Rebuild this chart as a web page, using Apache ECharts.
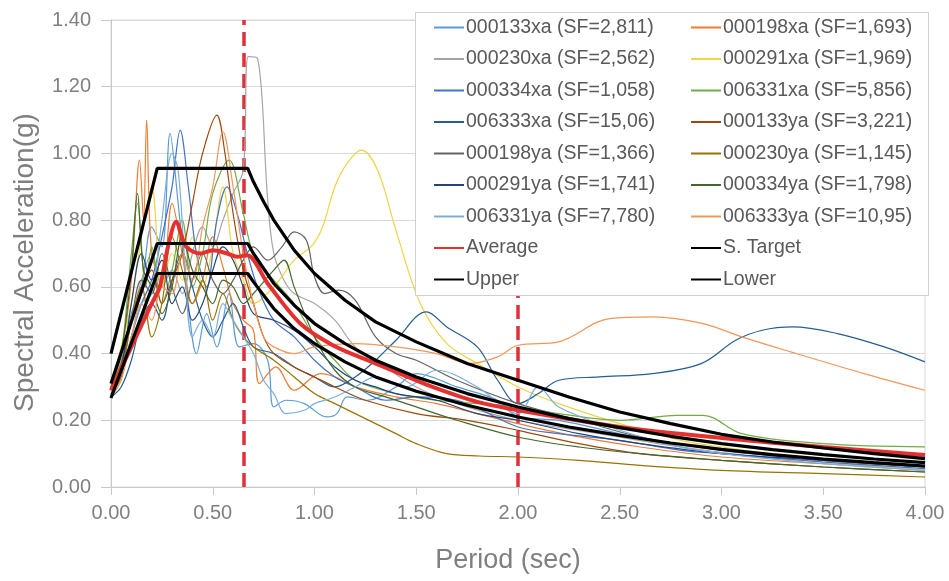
<!DOCTYPE html>
<html>
<head>
<meta charset="utf-8">
<script src="https://cdn.jsdelivr.net/npm/echarts@6/dist/echarts.min.js"></script>
<style>
  html, body { margin: 0; padding: 0; background: #ffffff; }
  #chart { width: 949px; height: 581px; }
</style>
</head>
<body>
<div id="chart"></div>
<script>
// Scaled ground-motion records: [period (s), spectral acceleration (g)]
const r000133xa = [[0,0.30],[0.05,0.36],[0.1,0.52],[0.15,0.6],[0.2,0.78],[0.25,0.72],[0.29,1.06],[0.33,0.85],[0.38,0.55],[0.42,0.40],[0.47,0.52],[0.52,0.42],[0.58,0.58],[0.63,0.42],[0.7,0.43],[0.77,0.38],[0.8,0.24],[0.86,0.26],[0.95,0.25],[1.06,0.21],[1.11,0.22],[1.16,0.27],[1.26,0.26],[1.4,0.3],[1.5,0.34],[1.7,0.3],[1.9,0.26],[2.0,0.21],[2.2,0.2],[2.5,0.16],[2.8,0.12],[3.0,0.1],[3.5,0.08],[4.0,0.06]];
const r000198xa = [[0,0.29],[0.05,0.4],[0.1,0.62],[0.14,0.98],[0.16,0.8],[0.175,1.10],[0.2,0.7],[0.25,0.62],[0.3,0.85],[0.35,0.7],[0.4,0.55],[0.45,0.62],[0.5,0.75],[0.55,0.66],[0.6,0.55],[0.65,0.5],[0.7,0.47],[0.73,0.31],[0.81,0.36],[0.9,0.29],[1.03,0.34],[1.1,0.33],[1.2,0.3],[1.4,0.27],[1.6,0.25],[1.8,0.22],[2.0,0.19],[2.3,0.15],[2.6,0.12],[3.0,0.09],[3.5,0.07],[4.0,0.05]];
const r000230xa = [[0,0.3],[0.05,0.38],[0.1,0.5],[0.15,0.62],[0.2,0.7],[0.25,0.6],[0.3,0.65],[0.35,0.58],[0.4,0.7],[0.45,0.78],[0.5,0.72],[0.55,0.8],[0.6,0.88],[0.65,0.95],[0.675,1.29],[0.72,1.285],[0.77,0.86],[0.8,0.7],[0.85,0.62],[0.9,0.58],[1.0,0.55],[1.1,0.5],[1.2,0.42],[1.3,0.38],[1.5,0.3],[1.7,0.25],[2.0,0.2],[2.4,0.16],[2.8,0.12],[3.2,0.09],[3.6,0.07],[4.0,0.05]];
const r000291xa = [[0,0.31],[0.05,0.42],[0.1,0.55],[0.15,0.75],[0.2,0.9],[0.25,0.6],[0.3,0.7],[0.35,0.62],[0.4,0.75],[0.45,0.6],[0.5,0.72],[0.55,0.9],[0.6,0.7],[0.65,0.62],[0.7,0.55],[0.8,0.6],[0.9,0.68],[0.99,0.725],[1.04,0.78],[1.1,0.9],[1.16,0.97],[1.23,1.01],[1.31,0.95],[1.4,0.77],[1.52,0.55],[1.65,0.43],[1.8,0.37],[2.0,0.30],[2.2,0.25],[2.5,0.19],[2.8,0.14],[3.0,0.12],[3.5,0.08],[4.0,0.05]];
const r000334xa = [[0,0.28],[0.05,0.33],[0.1,0.45],[0.15,0.55],[0.2,0.62],[0.25,0.75],[0.3,0.9],[0.34,1.07],[0.38,0.9],[0.42,0.7],[0.47,0.6],[0.52,0.8],[0.57,0.9],[0.62,0.82],[0.67,0.7],[0.72,0.6],[0.8,0.5],[0.9,0.45],[1.0,0.38],[1.1,0.33],[1.2,0.3],[1.35,0.26],[1.5,0.27],[1.7,0.26],[2.0,0.18],[2.2,0.16],[2.5,0.14],[2.8,0.11],[3.0,0.1],[3.5,0.075],[4.0,0.055]];
const r006331xa = [[0,0.30],[0.05,0.4],[0.1,0.7],[0.13,0.85],[0.17,0.6],[0.2,0.72],[0.25,0.55],[0.3,0.65],[0.35,0.8],[0.4,0.6],[0.45,0.7],[0.5,0.88],[0.58,0.98],[0.65,0.82],[0.7,0.7],[0.8,0.62],[0.9,0.55],[1.0,0.45],[1.1,0.38],[1.2,0.32],[1.4,0.28],[1.6,0.26],[1.8,0.25],[2.0,0.24],[2.2,0.22],[2.5,0.2],[2.78,0.215],[2.91,0.215],[3.1,0.16],[3.5,0.13],[4.0,0.12]];
const r006333xa = [[0,0.27],[0.05,0.3],[0.1,0.38],[0.15,0.5],[0.2,0.55],[0.25,0.5],[0.3,0.62],[0.35,0.7],[0.4,0.6],[0.45,0.5],[0.5,0.45],[0.55,0.5],[0.6,0.55],[0.65,0.48],[0.7,0.42],[0.8,0.4],[0.9,0.36],[1.0,0.33],[1.1,0.3],[1.2,0.33],[1.3,0.38],[1.4,0.44],[1.55,0.525],[1.65,0.48],[1.8,0.42],[1.9,0.32],[2.0,0.25],[2.1,0.28],[2.2,0.32],[2.4,0.33],[2.66,0.34],[2.9,0.37],[3.07,0.44],[3.2,0.47],[3.35,0.48],[3.57,0.46],[3.8,0.42],[4.0,0.375]];
const r000133ya = [[0,0.30],[0.05,0.37],[0.1,0.5],[0.15,0.58],[0.2,0.65],[0.25,0.55],[0.3,0.62],[0.35,0.7],[0.4,0.85],[0.45,1.0],[0.52,1.115],[0.56,1.0],[0.6,0.82],[0.65,0.65],[0.7,0.55],[0.75,0.45],[0.8,0.4],[0.9,0.36],[1.0,0.33],[1.1,0.3],[1.25,0.26],[1.5,0.22],[1.75,0.2],[2.0,0.17],[2.3,0.13],[2.6,0.1],[3.0,0.08],[3.5,0.06],[4.0,0.045]];
const r000198ya = [[0,0.29],[0.05,0.35],[0.1,0.5],[0.15,0.62],[0.2,0.58],[0.25,0.7],[0.3,0.6],[0.35,0.52],[0.4,0.62],[0.45,0.7],[0.5,0.62],[0.55,0.58],[0.6,0.62],[0.65,0.68],[0.7,0.72],[0.77,0.68],[0.84,0.72],[0.9,0.765],[0.96,0.74],[1.0,0.63],[1.05,0.58],[1.12,0.59],[1.2,0.56],[1.3,0.45],[1.4,0.4],[1.5,0.38],[1.7,0.32],[2.0,0.25],[2.3,0.2],[2.6,0.15],[3.0,0.11],[3.5,0.08],[4.0,0.06]];
const r000230ya = [[0,0.28],[0.05,0.33],[0.1,0.5],[0.15,0.6],[0.2,0.45],[0.25,0.55],[0.3,0.75],[0.35,0.65],[0.4,0.55],[0.45,0.62],[0.5,0.5],[0.55,0.58],[0.6,0.5],[0.65,0.45],[0.7,0.42],[0.8,0.38],[0.9,0.33],[1.0,0.28],[1.1,0.25],[1.2,0.22],[1.3,0.19],[1.4,0.16],[1.5,0.13],[1.65,0.1],[1.81,0.093],[2.0,0.09],[2.3,0.08],[2.6,0.065],[3.0,0.05],[3.5,0.04],[4.0,0.03]];
const r000291ya = [[0,0.3],[0.05,0.36],[0.1,0.55],[0.15,0.7],[0.2,0.62],[0.25,0.68],[0.3,0.55],[0.35,0.6],[0.4,0.5],[0.45,0.55],[0.5,0.65],[0.55,0.72],[0.6,0.68],[0.65,0.6],[0.7,0.52],[0.8,0.5],[0.9,0.47],[1.0,0.42],[1.1,0.36],[1.2,0.32],[1.3,0.3],[1.4,0.28],[1.6,0.26],[1.8,0.22],[2.0,0.2],[2.3,0.16],[2.6,0.13],[3.0,0.1],[3.5,0.08],[4.0,0.06]];
const r000334ya = [[0,0.31],[0.05,0.4],[0.1,0.65],[0.13,0.88],[0.16,0.65],[0.2,0.6],[0.25,0.52],[0.3,0.6],[0.35,0.75],[0.4,0.65],[0.45,0.6],[0.5,0.55],[0.55,0.62],[0.6,0.6],[0.65,0.55],[0.7,0.58],[0.8,0.65],[0.85,0.68],[0.9,0.6],[1.0,0.45],[1.1,0.35],[1.2,0.3],[1.35,0.27],[1.5,0.24],[1.7,0.2],[2.0,0.15],[2.3,0.12],[2.6,0.1],[3.0,0.08],[3.5,0.06],[4.0,0.045]];
const r006331ya = [[0,0.29],[0.05,0.34],[0.1,0.45],[0.15,0.55],[0.2,0.58],[0.25,0.8],[0.3,1.0],[0.33,0.95],[0.36,0.7],[0.4,0.45],[0.45,0.5],[0.5,0.45],[0.55,0.55],[0.6,0.5],[0.65,0.45],[0.7,0.4],[0.75,0.32],[0.8,0.28],[0.86,0.22],[0.95,0.23],[1.0,0.25],[1.1,0.27],[1.2,0.3],[1.3,0.33],[1.45,0.3],[1.6,0.35],[1.8,0.3],[2.0,0.22],[2.1,0.3],[2.2,0.24],[2.5,0.17],[2.8,0.12],[3.0,0.1],[3.5,0.07],[4.0,0.05]];
const r006333ya = [[0,0.27],[0.05,0.32],[0.1,0.45],[0.15,0.55],[0.2,0.5],[0.25,0.6],[0.3,0.58],[0.35,0.7],[0.4,0.62],[0.45,0.78],[0.5,0.9],[0.55,1.065],[0.6,0.9],[0.65,0.7],[0.7,0.55],[0.75,0.45],[0.8,0.42],[0.9,0.4],[1.0,0.42],[1.2,0.43],[1.4,0.42],[1.6,0.4],[1.76,0.37],[1.9,0.39],[2.0,0.425],[2.2,0.435],[2.45,0.505],[2.66,0.51],[2.91,0.49],[3.1,0.45],[3.34,0.405],[3.7,0.34],[4.0,0.29]];

// Record names, scale factors and line colours (legend order)
const recordNames = ['000133xa (SF=2,811)','000198xa (SF=1,693)','000230xa (SF=2,562)','000291xa (SF=1,969)','000334xa (SF=1,058)','006331xa (SF=5,856)','006333xa (SF=15,06)','000133ya (SF=3,221)','000198ya (SF=1,366)','000230ya (SF=1,145)','000291ya (SF=1,741)','000334ya (SF=1,798)','006331ya (SF=7,780)','006333ya (SF=10,95)'];
const recordData = [r000133xa, r000198xa, r000230xa, r000291xa, r000334xa, r006331xa, r006333xa, r000133ya, r000198ya, r000230ya, r000291ya, r000334ya, r006331ya, r006333ya];
const recordColors = ['#5B9BD5','#ED7D31','#A5A5A5','#EDD545','#4472C4','#70AD47','#255E91','#9E480E','#636363','#997300','#264478','#43682B','#7CAFDD','#F1975A'];

// Mean spectrum of the scaled records
const avgPeriods = [0, 0.1, 0.2, 0.24, 0.28, 0.32, 0.37, 0.44, 0.5, 0.57, 0.62, 0.67, 0.77, 0.93, 1.09, 1.26, 1.42, 1.58, 1.8, 2.0, 2.5, 3.0, 3.5, 4.0];
const avgValues = [0.29, 0.42, 0.55, 0.60, 0.72, 0.795, 0.72, 0.70, 0.71, 0.70, 0.69, 0.695, 0.61, 0.49, 0.425, 0.38, 0.34, 0.30, 0.255, 0.23, 0.18, 0.147, 0.12, 0.096];

// Design (target) spectrum with upper and lower bounds
const targetPeriods = [0, 0.227, 0.672, 0.7, 0.75, 0.8, 0.9, 1.0, 1.15, 1.3, 1.5, 1.75, 2.0, 2.25, 2.5, 2.75, 3.0, 3.25, 3.5, 3.75, 4.0];
const targetValues = [0.31, 0.73, 0.73, 0.70, 0.655, 0.61, 0.545, 0.49, 0.43, 0.38, 0.33, 0.28, 0.24, 0.205, 0.178, 0.152, 0.13, 0.112, 0.097, 0.084, 0.073];
const upperValues = [0.40, 0.955, 0.955, 0.915, 0.855, 0.80, 0.71, 0.64, 0.56, 0.495, 0.435, 0.37, 0.32, 0.27, 0.225, 0.19, 0.158, 0.135, 0.117, 0.10, 0.085];
const lowerValues = [0.267, 0.64, 0.64, 0.615, 0.575, 0.535, 0.475, 0.43, 0.375, 0.33, 0.287, 0.245, 0.21, 0.18, 0.155, 0.132, 0.113, 0.097, 0.084, 0.073, 0.063];

// Period range limits marked with dashed lines
const markPeriods = [0.65, 2.0];

const pairUp = (xs, ys) => xs.map((x, i) => [x, ys[i]]);

const mainFont = "'Liberation Sans', Arial, sans-serif";

const series = [];
recordNames.forEach((name, i) => {
  series.push({
    name: name,
    type: 'line',
    data: recordData[i],
    smooth: 0.35,
    symbol: 'none',
    lineStyle: { width: 1.2, color: recordColors[i] },
    itemStyle: { color: recordColors[i] },
    z: 2
  });
});
series.push({
  name: 'Average', type: 'line', data: pairUp(avgPeriods, avgValues), smooth: 0.3, symbol: 'none',
  lineStyle: { width: 4, color: '#E5302F' }, itemStyle: { color: '#E5302F' }, z: 2
});
[['S. Target', targetValues], ['Upper', upperValues], ['Lower', lowerValues]].forEach(([name, vals]) => {
  series.push({
    name: name, type: 'line', data: pairUp(targetPeriods, vals), symbol: 'none',
    lineStyle: { width: 3.2, color: '#000000' }, itemStyle: { color: '#000000' }, z: 2
  });
});
series.push({
  name: 'period limits', type: 'line', data: [], symbol: 'none', z: 2,
  markLine: {
    silent: true, symbol: 'none', label: { show: false }, z: 2,
    lineStyle: { color: '#E0313B', width: 3.5, type: [14, 7] },
    data: markPeriods.map(p => ({ xAxis: p }))
  }
});

const leftNames = [], rightNames = [];
recordNames.forEach((n, i) => (i % 2 === 0 ? leftNames : rightNames).push(n));
leftNames.push('Average', 'Upper');
rightNames.push('S. Target', 'Lower');

const legendBase = {
  orient: 'vertical', top: 16, padding: 0, itemGap: 8.5, itemWidth: 30, itemHeight: 4,
  selectedMode: false, z: 4,
  itemStyle: { opacity: 0 },
  textStyle: { fontFamily: mainFont, fontSize: 19.5, lineHeight: 23, color: '#595959', padding: [0, 0, 0, -3] }
};

const chart = echarts.init(document.getElementById('chart'), null, { renderer: 'canvas' });
chart.setOption({
  animation: false,
  backgroundColor: '#ffffff',
  grid: { left: 111, right: 24, top: 20, bottom: 94, show: true, borderColor: '#D9D9D9', borderWidth: 1 },
  xAxis: {
    type: 'value', min: 0, max: 4, interval: 0.5,
    name: 'Period (sec)', nameLocation: 'middle', nameGap: 60,
    nameTextStyle: { fontFamily: mainFont, fontSize: 27, color: '#7F7F7F', padding: [0, 20, 0, 0] },
    axisLine: { show: true, lineStyle: { color: '#C8C8C8' } },
    axisTick: { show: true, length: 8, lineStyle: { color: '#C8C8C8' } },
    axisLabel: { margin: 16, fontFamily: mainFont, fontSize: 20, color: '#808080', formatter: v => v.toFixed(2) },
    splitLine: { show: false }
  },
  yAxis: {
    type: 'value', min: 0, max: 1.4, interval: 0.2,
    name: 'Spectral Acceleration(g)', nameLocation: 'middle', nameGap: 72,
    nameTextStyle: { fontFamily: mainFont, fontSize: 28, color: '#7F7F7F', padding: [0, 18, 0, 0] },
    axisLine: { show: true, lineStyle: { color: '#C8C8C8' } },
    axisTick: { show: true, length: 10, lineStyle: { color: '#C8C8C8' } },
    axisLabel: { margin: 20, fontFamily: mainFont, fontSize: 20, color: '#808080', formatter: v => v.toFixed(2) },
    splitLine: { show: true, lineStyle: { color: '#D9D9D9', width: 1 } }
  },
  legend: [
    Object.assign({}, legendBase, { left: 433, data: leftNames }),
    Object.assign({}, legendBase, { left: 690, data: rightNames })
  ],
  graphic: [{
    type: 'rect', z: 3, zlevel: 0, silent: true,
    shape: { x: 415.5, y: 12.5, width: 513, height: 283 },
    style: { fill: '#ffffff', stroke: '#D0D0D0', lineWidth: 1 }
  }],
  series: series
});
</script>
</body>
</html>
